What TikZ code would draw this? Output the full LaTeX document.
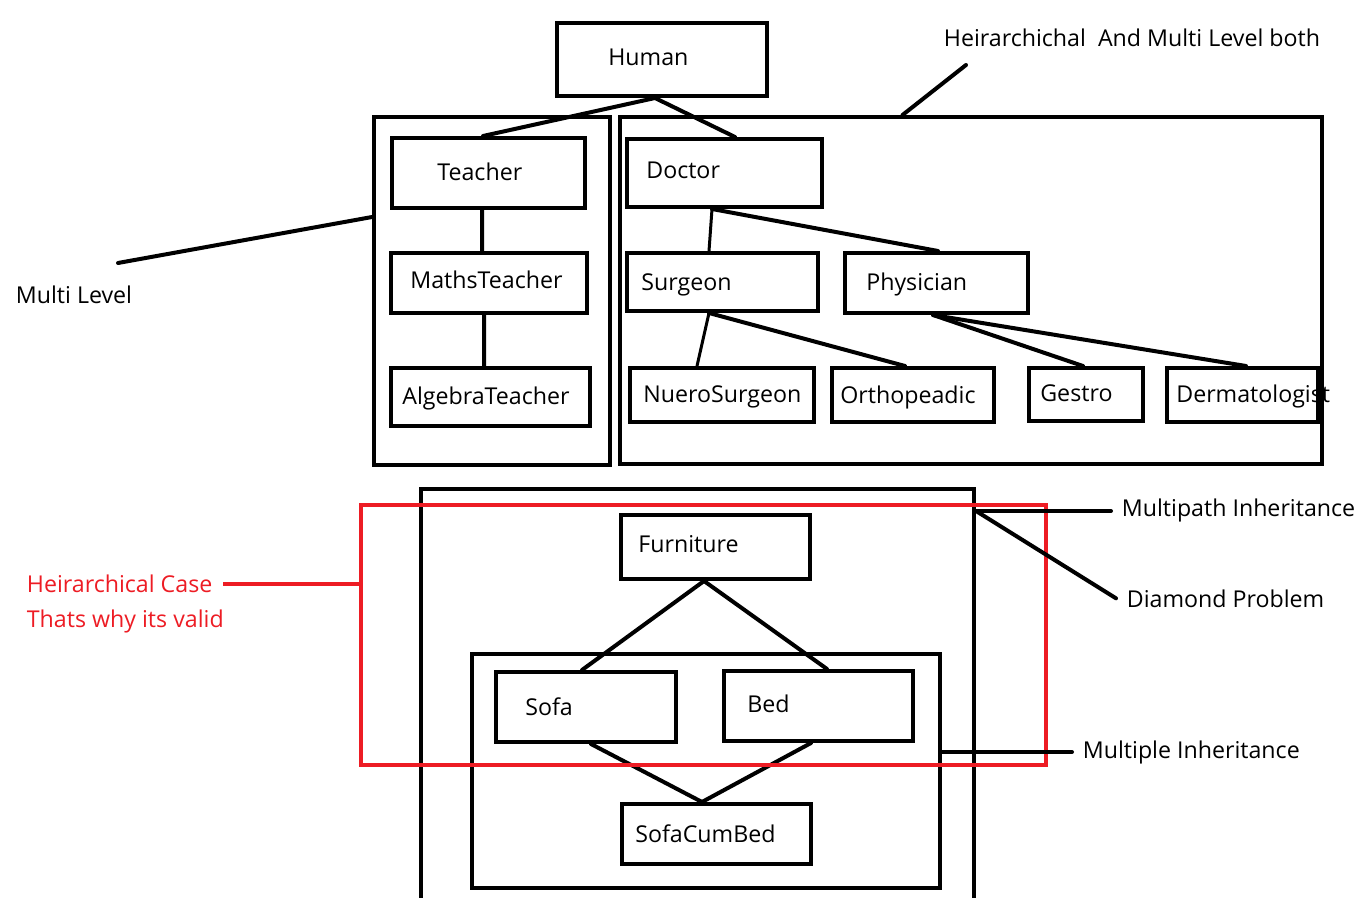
\documentclass[tikz,border=0pt]{standalone}
\usepackage{fontspec}
\setmainfont{Open Sans}
\usetikzlibrary{fit}
\definecolor{paintred}{RGB}{237,28,36}
\tikzset{
  box/.style={draw, line width=0.08cm, inner sep=0pt},
  conn/.style={line width=0.08cm, line cap=round},
  lbl/.style={anchor=base west, inner sep=0pt, font=\fontsize{13.2}{15}\selectfont},
  note/.style={anchor=base west, inner xsep=6pt, inner ysep=0pt, font=\fontsize{13.2}{15}\selectfont},
}
\begin{document}
\begin{tikzpicture}[x=0.02cm, y=-0.02cm]
    \useasboundingbox (0,0) rectangle (1360,898);
    % containers
    \node [box, fit={(374,117) (610,465)}] (tcont) {};
    \node [box, fit={(620,117) (1322,464)}] (dcont) {};
    \node [box, fit={(421,489) (974,930)}] (fcont) {};
    \node [box, fit={(472,654) (940,888)}] (icont) {};
    % classes
    \node [box, fit={(557,23) (767,96)}] (human) {};
    \node [box, fit={(392,138) (585,208)}] (teacher) {};
    \node [box, fit={(391,253) (587,313)}] (maths) {};
    \node [box, fit={(391,368) (590,426)}] (algebra) {};
    \node [box, fit={(627,139) (822,207)}] (doctor) {};
    \node [box, fit={(627,253) (818,311)}] (surgeon) {};
    \node [box, fit={(845,253) (1028,313)}] (physician) {};
    \node [box, fit={(630,368) (814,422)}] (nsurg) {};
    \node [box, fit={(832,368) (994,422)}] (ortho) {};
    \node [box, fit={(1029,368) (1143,421)}] (gestro) {};
    \node [box, fit={(1167,368) (1318,422)}] (derm) {};
    \node [box, fit={(621,515) (810,579)}] (furniture) {};
    \node [box, fit={(496,672) (676,742)}] (sofa) {};
    \node [box, fit={(724,671) (913,741)}] (bed) {};
    \node [box, fit={(622,804) (811,864)}] (scb) {};
    \node [lbl] at (608,66) {Human};
    \node [lbl] at (437,181) {Teacher};
    \node [lbl] at (410,288.5) {MathsTeacher};
    \node [lbl] at (402,404.5) {AlgebraTeacher};
    \node [lbl] at (646,179) {Doctor};
    \node [lbl] at (641,290.5) {Surgeon};
    \node [lbl] at (866,290.5) {Physician};
    \node [lbl] at (643,402.5) {NueroSurgeon};
    \node [lbl] at (840,403.5) {Orthopeadic};
    \node [lbl] at (1040,401.5) {Gestro};
    \node [lbl] at (1176,402.5) {Dermatologist};
    \node [lbl] at (638,553) {Furniture};
    \node [lbl] at (525,715) {Sofa};
    \node [lbl] at (747,712.5) {Bed};
    \node [lbl] at (635,842) {SofaCumBed};
    % links
    \draw [conn] ([xshift=-0.14cm]human.south) -- ([xshift=-0.11cm]teacher.north);
    \draw [conn] ([xshift=-0.14cm]human.south) -- ([xshift=0.21cm]doctor.north);
    \draw [conn] ([xshift=-0.13cm]teacher.south) -- ([xshift=-0.14cm]maths.north);
    \draw [conn] ([xshift=-0.1cm]maths.south) -- ([xshift=-0.13cm]algebra.north);
    \draw [conn, line width=0.06cm] ([xshift=-0.25cm]doctor.south) -- ([xshift=-0.27cm]surgeon.north);
    \draw [conn] ([xshift=-0.25cm]doctor.south) -- ([xshift=0.03cm]physician.north);
    \draw [conn, line width=0.06cm] ([xshift=-0.27cm]surgeon.south) -- ([xshift=-0.5cm]nsurg.north);
    \draw [conn] ([xshift=-0.27cm]surgeon.south) -- ([xshift=-0.16cm]ortho.north);
    \draw [conn] ([xshift=-0.07cm]physician.south) -- ([xshift=-0.06cm]gestro.north);
    \draw [conn] ([xshift=-0.07cm]physician.south) -- ([xshift=0.07cm]derm.north);
    \draw [conn] ([xshift=-0.23cm]furniture.south) -- ([xshift=-0.08cm]sofa.north);
    \draw [conn] ([xshift=-0.23cm]furniture.south) -- ([xshift=0.17cm]bed.north);
    \draw [conn] ([xshift=0.1cm]sofa.south) -- ([xshift=-0.29cm]scb.north);
    \draw [conn] ([xshift=-0.15cm]bed.south) -- ([xshift=-0.29cm]scb.north);
    % notes
    \node [box, draw=paintred, fit={(361,505) (1046,765)}] (redbox) {};
    \node [note] (hm) at (933,46.7) {Heirarchichal\ \ And Multi Level both};
    \node [note] (ml) at (5,303.3) {Multi Level};
    \node [note] (mp) at (1111,517) {Multipath Inheritance};
    \node [note] (dp) at (1116,607) {Diamond Problem};
    \node [note] (mi) at (1072,758) {Multiple Inheritance};
    \node [note, text=paintred] (hc) at (16,593) {Heirarchical Case};
    \node [note, text=paintred] (hc2) at (16,627) {Thats why its valid};
    \coordinate (hmend) at (966,65);
    \coordinate (mlend) at (118,263);
    \draw [conn] (hmend) -- ([xshift=-1.37cm]dcont.north);
    \draw [conn] (mlend) -- ([yshift=1.48cm]tcont.west);
    \draw [conn] (fcont.east |- mp.west) -- (mp.west);
    \draw [conn] (fcont.east |- mp.west) -- (dp.west);
    \draw [conn] (icont.east |- mi.west) -- (mi.west);
    \draw [conn, draw=paintred, line cap=butt] (hc.east) -- (hc.east -| redbox.west);
\end{tikzpicture}
\end{document}
